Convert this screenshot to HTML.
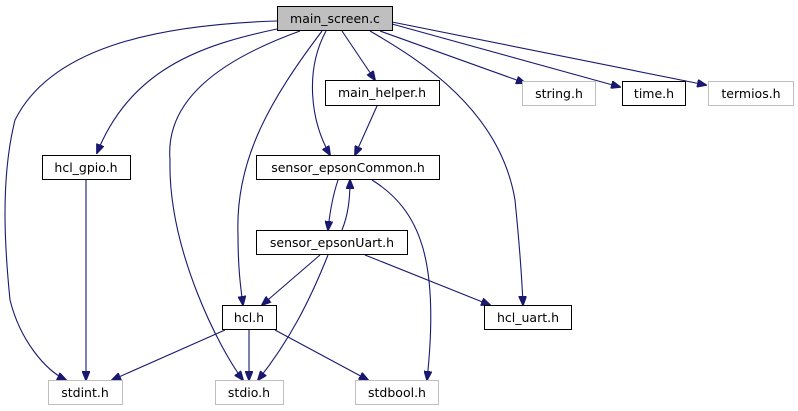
<!DOCTYPE html>
<html><head><meta charset="utf-8"><style>
html,body{margin:0;padding:0;background:#fff;width:798px;height:411px;overflow:hidden}
text{font-family:"DejaVu Sans","Liberation Sans",sans-serif;font-size:12.5px;text-anchor:middle}
</style></head><body>
<svg width="798" height="411" xmlns="http://www.w3.org/2000/svg">
<defs><marker id="a" markerWidth="10" markerHeight="8" refX="9" refY="4" orient="auto" markerUnits="userSpaceOnUse"><path d="M0,0 L10,4 L0,8 z" fill="#191970" stroke="#191970"/></marker></defs>
<g fill="none" stroke="#191970" stroke-width="1.1" marker-end="url(#a)">
<path d="M277,21 C150,25 50,50 15,120 C0,180 5,250 10,300 C20,340 45,370 66,380"/>
<path d="M277,29 C200,45 130,70 97,153"/>
<path d="M300,31 C220,60 165,100 170,160 C168,250 220,350 243,380"/>
<path d="M322,31 C270,100 235,160 238,235 C238,270 241,290 243,305"/>
<path d="M326,31 C305,70 310,120 330,155"/>
<path d="M342,31 L375,80"/>
<path d="M370,31 C420,60 500,110 515,200 C520,250 522,280 523,305"/>
<path d="M380,31 L525,83"/>
<path d="M392,24 L620,87"/>
<path d="M392,22 L706,85"/>
<path d="M377,106 L355,155"/>
<path d="M338,180 C333,195 330,210 328,230"/>
<path d="M342,230 C348,215 350,200 350,180"/>
<path d="M372,180 C420,210 440,260 427,380"/>
<path d="M86,180 L86,380"/>
<path d="M320,255 L262,305"/>
<path d="M328,255 C310,300 290,340 258,380"/>
<path d="M365,255 L490,305"/>
<path d="M249,330 L249,380"/>
<path d="M225,330 L112,380"/>
<path d="M275,330 L368,380"/>
</g>
<g stroke-width="1">
<rect x="277.5" y="6.5" width="115" height="24" fill="#bfbfbf" stroke="#000"/>
<rect x="325.5" y="80.5" width="114" height="25" fill="#fff" stroke="#000"/>
<rect x="522.5" y="81.5" width="73" height="24" fill="#fff" stroke="#bfbfbf"/>
<rect x="622.5" y="81.5" width="63" height="24" fill="#fff" stroke="#000"/>
<rect x="708.5" y="81.5" width="85" height="24" fill="#fff" stroke="#bfbfbf"/>
<rect x="42.5" y="155.5" width="88" height="24" fill="#fff" stroke="#000"/>
<rect x="256.5" y="155.5" width="183" height="24" fill="#fff" stroke="#000"/>
<rect x="256.5" y="230.5" width="151" height="24" fill="#fff" stroke="#000"/>
<rect x="222.5" y="305.5" width="54" height="24" fill="#fff" stroke="#000"/>
<rect x="484.5" y="305.5" width="87" height="24" fill="#fff" stroke="#000"/>
<rect x="48.5" y="380.5" width="74" height="24" fill="#fff" stroke="#bfbfbf"/>
<rect x="215.5" y="380.5" width="68" height="24" fill="#fff" stroke="#bfbfbf"/>
<rect x="355.5" y="380.5" width="83" height="24" fill="#fff" stroke="#bfbfbf"/>
</g>
<g fill="#000">
<text x="335" y="23">main_screen.c</text>
<text x="382" y="97">main_helper.h</text>
<text x="559" y="98">string.h</text>
<text x="654" y="98">time.h</text>
<text x="751" y="98">termios.h</text>
<text x="86" y="172">hcl_gpio.h</text>
<text x="348" y="172">sensor_epsonCommon.h</text>
<text x="332" y="247">sensor_epsonUart.h</text>
<text x="249" y="322">hcl.h</text>
<text x="528" y="322">hcl_uart.h</text>
<text x="85" y="397">stdint.h</text>
<text x="249" y="397">stdio.h</text>
<text x="397" y="397">stdbool.h</text>
</g>
</svg>
</body></html>
